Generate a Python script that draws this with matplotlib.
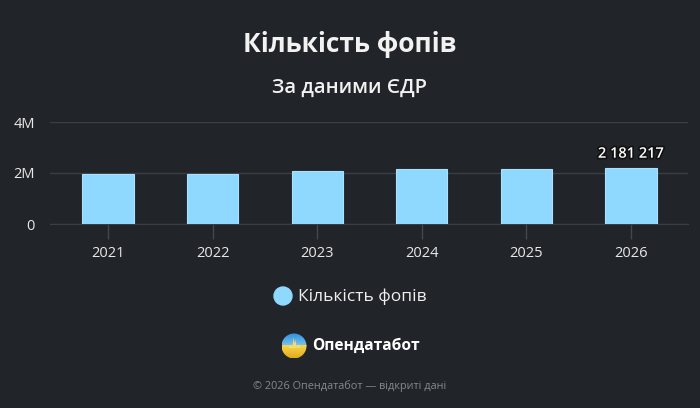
import numpy as np
import matplotlib
matplotlib.use("Agg")
import matplotlib.pyplot as plt
from matplotlib.patches import Circle
from matplotlib.colors import LinearSegmentedColormap
import matplotlib.patheffects as pe

plt.rcParams['font.family'] = ['Open Sans', 'DejaVu Sans']

years = ['2021', '2022', '2023', '2024', '2025', '2026']
fops = [1962000, 1955000, 2085000, 2150000, 2160000, 2181217]
y_ticks = [0, 2000000, 4000000]
y_labels = ['0', '2M', '4M']

bg = '#212428'
bar_color = '#8fd8ff'
grid_color = '#3b3f45'

fig = plt.figure(figsize=(7, 4.08), dpi=100, facecolor=bg)
ax = fig.add_axes([50/700, 1-224/408, 638/700, 102/408])
ax.set_facecolor(bg)

x = np.arange(len(years))
ax.bar(x, fops, width=0.49, color=bar_color, edgecolor='#a8e2ff', linewidth=0.8, zorder=3)
ax.set_xlim(-0.555, 5.545)
ax.set_ylim(0, 4000000)

ax.set_yticks(y_ticks)
ax.set_yticklabels(y_labels)
ax.set_xticks(x)
ax.set_xticklabels(years)
ax.grid(axis='y', color=grid_color, linewidth=1)
ax.set_axisbelow(True)
for s in ['top', 'right', 'left']:
    ax.spines[s].set_visible(False)
ax.spines['bottom'].set_color(grid_color)
ax.tick_params(axis='y', length=0, colors='#e8e8e8', labelsize=10.5, pad=11)
ax.tick_params(axis='x', length=11, width=1, color='#44484e', colors='#e8e8e8', labelsize=10.5, pad=5)

# label on the last bar
ax.text(x[-1], fops[-1] + 300000, '{:,}'.format(fops[-1]).replace(',', ' '),
        ha='center', va='bottom', color='white', fontsize=10.5, fontweight='semibold',
        path_effects=[pe.withStroke(linewidth=2.5, foreground='#111111')], zorder=5)

fig.text(0.5, 1-45/408, 'Кількість фопів', ha='center', va='center',
         color='#f2f2f2', fontsize=19, fontweight='bold')
fig.text(0.5, 1-88/408, 'За даними ЄДР', ha='center', va='center',
         color='#f2f2f2', fontsize=14.5, fontweight='semibold')

# legend
ov = fig.add_axes([0, 0, 1, 1], facecolor='none')
ov.axis('off')
ov.add_patch(Circle((283, 296), 9, color=bar_color))
ov.text(298, 297, 'Кількість фопів', ha='left', va='center', color='#f0f0f0', fontsize=12.5)

# logo
cx, cy, r = 294, 346, 12.5
clip = Circle((cx, cy), r, transform=ov.transData)
top = ov.imshow(np.linspace(0, 1, 50).reshape(-1, 1),
                cmap=LinearSegmentedColormap.from_list('b', ['#2f8fdc', '#7cc4f0']),
                extent=(cx - r, cx + r, cy, cy - r), aspect='auto')
bot = ov.imshow(np.linspace(0, 1, 50).reshape(-1, 1),
                cmap=LinearSegmentedColormap.from_list('y', ['#f7d84a', '#e3a91c']),
                extent=(cx - r, cx + r, cy + r, cy), aspect='auto')
top.set_clip_path(clip)
bot.set_clip_path(clip)
wx = [cx - r, cx - 6, cx - 4, cx - 2, cx - 1, cx, cx + 1, cx + 2, cx + 4, cx + 6, cx + r]
wy = [cy + 1, cy + 1, cy - 2, cy, cy - 9, cy - 3, cy - 7, cy + 1, cy - 2, cy + 1, cy + 1]
wave = ov.fill_between(wx, wy, cy + 1, color='#f2dc7a', linewidth=0)
wave.set_clip_path(clip)
ov.set_xlim(0, 700)
ov.set_ylim(408, 0)
ov.text(312, 346, 'Опендатабот', ha='left', va='center', color='white', fontsize=11.2, fontweight='bold')

fig.text(0.5, 1-386/408, '© 2026 Опендатабот — відкриті дані', ha='center', va='center',
         color='#85888d', fontsize=7.8)

fig.savefig('out.png', dpi=100, facecolor=bg)
